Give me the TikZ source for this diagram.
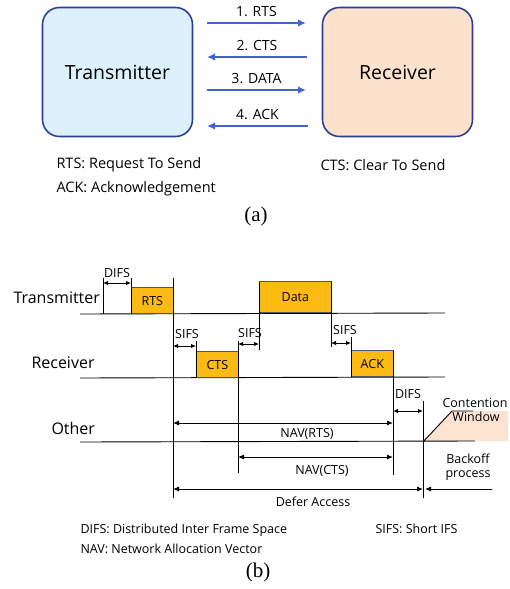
\documentclass[tikz,border=0pt]{standalone}
\usepackage{fontspec}
\setmainfont{Open Sans}
\newfontfamily\serifcap{Liberation Serif}
\usetikzlibrary{arrows.meta}
\definecolor{unitedge}{RGB}{45,65,150}
\definecolor{txfill}{RGB}{220,241,252}
\definecolor{rxfill}{RGB}{252,225,205}
\definecolor{msgblue}{RGB}{68,100,205}
\definecolor{slotfill}{RGB}{252,186,20}
\definecolor{slotedge}{RGB}{75,85,115}
\definecolor{cwfill}{RGB}{252,226,208}
\tikzset{
  unit/.style={draw=unitedge, line width=1.6pt, rounded corners=17pt, minimum width=150pt, minimum height=129pt, font=\fontsize{19.5}{23}\selectfont},
  msg/.style={msgblue, line width=1.9pt, -{Latex[length=8pt,width=7.5pt]}},
  msgtext/.style={font=\fontsize{14}{17}\selectfont, above=2pt, text=black},
  legend/.style={anchor=base west, font=\fontsize{14.5}{17}\selectfont},
  caption/.style={anchor=base, font=\serifcap\fontsize{21}{24}\selectfont},
  lane/.style={anchor=base west, font=\fontsize{16}{19}\selectfont},
  slot/.style={draw=slotedge, fill=slotfill, line width=0.7pt, anchor=south west, inner sep=0pt, font=\fontsize{12.5}{15}\selectfont},
  small/.style={anchor=base, font=\fontsize{12.5}{15}\selectfont},
  gap/.style={line width=0.9pt, {Latex[length=5pt,width=4.5pt]}-{Latex[length=5pt,width=4.5pt]}},
  span/.style={line width=0.9pt, {Latex[length=6pt,width=5pt]}-{Latex[length=6pt,width=5pt]}},
  tick/.style={line width=1pt},
  lanebase/.style={line width=0.9pt}
}
\begin{document}
\begin{tikzpicture}[x=1pt, y=-1pt]
  \useasboundingbox (0,0) rectangle (509,589);
  % (a) handshake
  \node[unit, fill=txfill] (tx) at (117.5,72) {Transmitter};
  \node[unit, fill=rxfill] (rx) at (397.5,72) {Receiver};
  \coordinate (m1a) at (207,23);  \coordinate (m1b) at (306,23);
  \coordinate (m2a) at (207,57);  \coordinate (m2b) at (307,57);
  \coordinate (m3a) at (207,90);  \coordinate (m3b) at (306,90);
  \coordinate (m4a) at (207,126); \coordinate (m4b) at (308,126);
  \draw[msg] (m1a) -- node[msgtext] (rtsmsg) {1. RTS} (m1b);
  \draw[msg] (m2b) -- node[msgtext] (ctsmsg) {2. CTS} (m2a);
  \draw[msg] (m3a) -- node[msgtext] (datamsg) {3. DATA} (m3b);
  \draw[msg] (m4b) -- node[msgtext] (ackmsg) {4. ACK} (m4a);
  \node[legend] (rtsdef) at (53,168) {RTS: Request To Send};
  \node[legend] (ackdef) at (53,192) {ACK: Acknowledgement};
  \node[legend] (ctsdef) at (317,170) {CTS: Clear To Send};
  \node[caption] (capa) at (256,221) {(a)};
  % (b) timing
  \fill[cwfill] (423,441) -- (452,411) -- (508,411) -- (508,441) -- cycle;
  \draw[lanebase] (80,314) -- (445,313);
  \draw[lanebase] (80,378) -- (445,377);
  \draw[lanebase] (80,442) -- (475,441);
  \node[lane] (txlane) at (10,303) {Transmitter};
  \node[lane] (rxlane) at (28,368) {Receiver};
  \node[lane] (otlane) at (48,434) {Other};
  \node[slot, minimum width=42pt, minimum height=26pt] (rts) at (131,314) {RTS};
  \node[slot, minimum width=42pt, minimum height=26pt] (cts) at (196,378) {CTS};
  \node[slot, minimum width=72pt, minimum height=31pt] (data) at (259,313) {Data};
  \node[slot, minimum width=42pt, minimum height=26pt] (ack) at (351,377) {ACK};
  \draw[tick] (103,278) -- (103,314);
  \draw[tick] (131,278) -- (131,314);
  \draw[tick] (173,278) -- (173,498);
  \draw[tick] (196,341) -- (196,378);
  \draw[tick] (238,341) -- (238,473);
  \draw[tick] (259,282) -- (259,350);
  \draw[tick] (331,282) -- (331,347);
  \draw[tick] (351,337) -- (351,377);
  \draw[tick] (393,351) -- (393,475);
  \draw[tick] (423,401) -- (423,498);
  \draw[gap] (103,283) -- (131,283);
  \draw[gap] (173,346) -- (196,346);
  \draw[gap] (238,344) -- (259,344);
  \draw[gap] (331,343) -- (351,343);
  \draw[gap] (393,411) -- (423,411);
  \node[small] (difsa) at (117,277) {DIFS};
  \node[small] (sifsa) at (187,338) {SIFS};
  \node[small] (sifsb) at (250,337) {SIFS};
  \node[small] (sifsc) at (345,334) {SIFS};
  \node[small] (difsb) at (408,398) {DIFS};
  \draw[span] (173,423) -- (393,423);
  \draw[span] (238,457) -- (393,457);
  \draw[span] (173,489) -- (423,489);
  \draw[lanebase, -{Latex[length=6pt,width=5pt]}] (492,489) -- (425,489);
  \node[small] (navrts) at (307,437) {NAV(RTS)};
  \node[small] (navcts) at (322,474) {NAV(CTS)};
  \node[small] (defer) at (313,506) {Defer Access};
  \draw[lanebase] (423,442) -- (452,411) -- (473,411);
  \node[small] (cwa) at (475,407) {Contention};
  \node[small] (cwb) at (476,421) {Window};
  \node[small] (boa) at (468,463) {Backoff};
  \node[small] (bob) at (468,477) {process};
  \node[small, anchor=base west] (difsdef) at (77,533) {DIFS: Distributed Inter Frame Space};
  \node[small, anchor=base west] (navdef) at (77,553) {NAV: Network Allocation Vector};
  \node[small, anchor=base west] (sifsdef) at (372,533) {SIFS: Short IFS};
  \node[caption] (capb) at (258,577) {(b)};
\end{tikzpicture}
\end{document}
